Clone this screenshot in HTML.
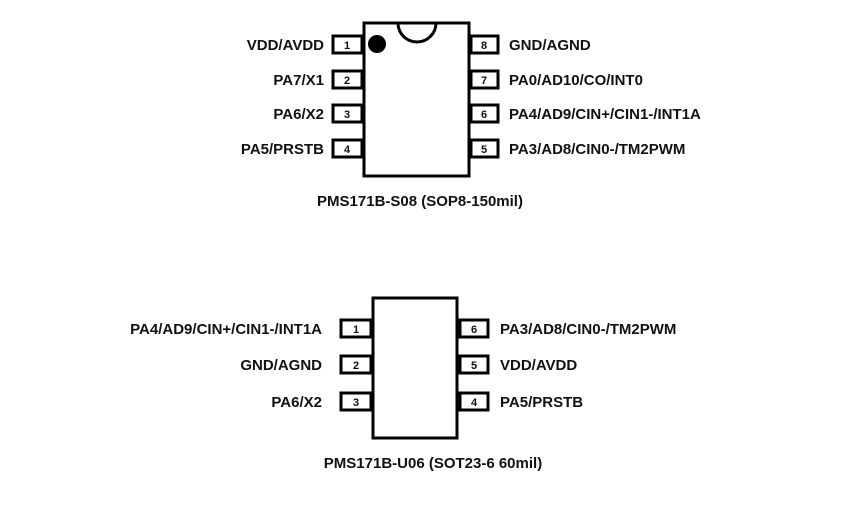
<!DOCTYPE html>
<html><head><style>
body{margin:0;background:#fff;}
svg text{font-family:"Liberation Sans",Arial,sans-serif;font-weight:bold;fill:#111;}
</style></head><body>
<svg width="851" height="518" viewBox="0 0 851 518" xmlns="http://www.w3.org/2000/svg">
<g fill="none" stroke="#000" stroke-width="3">
<rect x="364" y="23" width="105" height="153" fill="#fff"/>
<path d="M398,23 A19,19 0 0 0 436,23" />
<rect x="333" y="36" width="29" height="17"/>
<rect x="333" y="71" width="29" height="17"/>
<rect x="333" y="105" width="29" height="17"/>
<rect x="333" y="140" width="29" height="17"/>
<rect x="471" y="36" width="27" height="17"/>
<rect x="471" y="71" width="27" height="17"/>
<rect x="471" y="105" width="27" height="17"/>
<rect x="471" y="140" width="27" height="17"/>
<rect x="373" y="298" width="84" height="140" fill="#fff"/>
<rect x="341" y="320" width="30" height="17"/>
<rect x="341" y="356" width="30" height="17"/>
<rect x="341" y="393" width="30" height="17"/>
<rect x="460" y="320" width="28" height="17"/>
<rect x="460" y="356" width="28" height="17"/>
<rect x="460" y="393" width="28" height="17"/>
</g>
<circle cx="377" cy="44" r="9" fill="#000"/>
<g font-size="11" text-anchor="middle">
<text x="347" y="49">1</text><text x="347" y="84">2</text><text x="347" y="118">3</text><text x="347" y="153">4</text>
<text x="484" y="49">8</text><text x="484" y="84">7</text><text x="484" y="118">6</text><text x="484" y="153">5</text>
<text x="356" y="333">1</text><text x="356" y="369">2</text><text x="356" y="406">3</text>
<text x="474" y="333">6</text><text x="474" y="369">5</text><text x="474" y="406">4</text>
</g>
<g font-size="15" text-anchor="end">
<text x="324" y="50">VDD/AVDD</text><text x="324" y="85">PA7/X1</text><text x="324" y="119">PA6/X2</text><text x="324" y="154">PA5/PRSTB</text>
<text x="322" y="334">PA4/AD9/CIN+/CIN1-/INT1A</text><text x="322" y="370">GND/AGND</text><text x="322" y="407">PA6/X2</text>
</g>
<g font-size="15">
<text x="509" y="50">GND/AGND</text><text x="509" y="85">PA0/AD10/CO/INT0</text><text x="509" y="119">PA4/AD9/CIN+/CIN1-/INT1A</text><text x="509" y="154">PA3/AD8/CIN0-/TM2PWM</text>
<text x="500" y="334">PA3/AD8/CIN0-/TM2PWM</text><text x="500" y="370">VDD/AVDD</text><text x="500" y="407">PA5/PRSTB</text>
</g>
<g font-size="15" text-anchor="middle">
<text x="420" y="206">PMS171B-S08 (SOP8-150mil)</text>
<text x="433" y="468">PMS171B-U06 (SOT23-6 60mil)</text>
</g>
</svg>
</body></html>
